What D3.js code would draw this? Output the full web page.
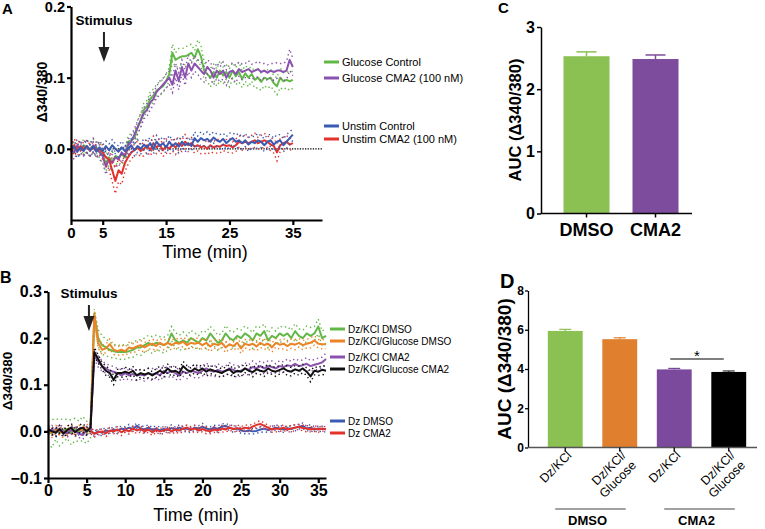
<!DOCTYPE html>
<html>
<head>
<meta charset="utf-8">
<script src="https://cdn.jsdelivr.net/npm/d3@7/dist/d3.min.js"></script>
<style>
  body { margin: 0; background: #fff; }
  svg text { font-family: "Liberation Sans", Arial, sans-serif; }
</style>
</head>
<body>
<div id="chart"></div>
<script>
var width = 765;
var height = 529;

// ---------- panel A : traces sampled every 0.5 min, 0-35 min ----------
var stepA = 0.5;
var glucoseControlA = [
  0.005, 0.0, 0.003, 0.0, 0.005, 0.002, 0.0, 0.004, 0.002, -0.002,
  -0.01, -0.02, -0.012, -0.018, -0.01, -0.012, -0.008, -0.012, 0.01, 0.012,
  0.015, 0.03, 0.04, 0.055, 0.06, 0.07, 0.075, 0.082, 0.085, 0.088,
  0.095, 0.105, 0.135, 0.125, 0.128, 0.13, 0.13, 0.132, 0.135, 0.128,
  0.14, 0.13, 0.11, 0.105, 0.1, 0.108, 0.1, 0.11, 0.103, 0.108,
  0.1, 0.11, 0.102, 0.108, 0.098, 0.106, 0.1, 0.105, 0.097, 0.1,
  0.094, 0.1, 0.098, 0.1, 0.092, 0.088, 0.1, 0.095, 0.097, 0.095,
  0.097];
var glucoseControlSemA = [
  0.01, 0.008, 0.01, 0.009, 0.008, 0.01, 0.009, 0.01, 0.008, 0.01,
  0.01, 0.012, 0.01, 0.012, 0.01, 0.011, 0.01, 0.012, 0.008, 0.01,
  0.008, 0.01, 0.009, 0.01, 0.008, 0.01, 0.009, 0.008, 0.01, 0.009,
  0.01, 0.009, 0.012, 0.01, 0.013, 0.011, 0.012, 0.014, 0.012, 0.01,
  0.013, 0.015, 0.012, 0.01, 0.013, 0.011, 0.012, 0.014, 0.012, 0.01,
  0.013, 0.011, 0.012, 0.014, 0.012, 0.011, 0.013, 0.01, 0.012, 0.014,
  0.012, 0.011, 0.013, 0.012, 0.01, 0.012, 0.014, 0.012, 0.011, 0.013,
  0.012];
var glucoseCma2A = [
  0.0, -0.005, 0.005, -0.002, 0.0, 0.004, -0.003, 0.005, 0.0, -0.005,
  -0.01, -0.025, -0.015, -0.02, -0.012, -0.015, -0.005, -0.01, 0.005, 0.01,
  0.02, 0.03, 0.04, 0.05, 0.055, 0.065, 0.07, 0.08, 0.085, 0.09,
  0.095, 0.1, 0.09, 0.11, 0.095, 0.115, 0.1, 0.12, 0.11, 0.12,
  0.115, 0.11, 0.105, 0.115, 0.11, 0.1, 0.11, 0.105, 0.11, 0.1,
  0.108, 0.11, 0.105, 0.112, 0.108, 0.11, 0.112, 0.108, 0.11, 0.112,
  0.108, 0.11, 0.107, 0.11, 0.108, 0.11, 0.11, 0.108, 0.11, 0.125,
  0.115];
var glucoseCma2SemA = [
  0.008, 0.01, 0.009, 0.008, 0.01, 0.009, 0.008, 0.01, 0.009, 0.01,
  0.01, 0.011, 0.01, 0.012, 0.01, 0.011, 0.009, 0.01, 0.008, 0.009,
  0.008, 0.009, 0.01, 0.008, 0.009, 0.01, 0.009, 0.008, 0.01, 0.009,
  0.01, 0.009, 0.011, 0.01, 0.012, 0.01, 0.011, 0.012, 0.01, 0.011,
  0.01, 0.012, 0.011, 0.01, 0.012, 0.01, 0.011, 0.01, 0.012, 0.011,
  0.01, 0.011, 0.012, 0.01, 0.011, 0.01, 0.012, 0.011, 0.01, 0.011,
  0.012, 0.01, 0.011, 0.01, 0.012, 0.011, 0.01, 0.012, 0.013, 0.015,
  0.012];
var unstimControlA = [
  0.0, 0.003, -0.004, 0.002, -0.003, 0.004, -0.002, 0.003, -0.004, 0.002,
  -0.003, 0.004, -0.002, 0.005, 0.0, -0.004, 0.002, -0.003, 0.0, 0.005,
  -0.002, 0.004, 0.0, 0.006, 0.002, 0.008, 0.0, 0.01, 0.004, 0.008,
  0.002, 0.01, 0.004, 0.008, 0.003, 0.01, 0.005, 0.008, 0.004, 0.015,
  0.01, 0.015, 0.012, 0.014, 0.01, 0.016, 0.012, 0.01, 0.014, 0.008,
  0.012, 0.015, 0.01, 0.012, 0.008, 0.012, 0.006, 0.01, 0.008, 0.012,
  0.01, 0.005, 0.01, 0.012, 0.006, 0.01, 0.012, 0.005, 0.01, 0.015,
  0.02];
var unstimControlSemA = [
  0.008, 0.007, 0.009, 0.008, 0.007, 0.009, 0.008, 0.007, 0.008, 0.009,
  0.008, 0.007, 0.009, 0.008, 0.007, 0.008, 0.009, 0.007, 0.008, 0.009,
  0.008, 0.009, 0.007, 0.008, 0.009, 0.008, 0.007, 0.009, 0.008, 0.009,
  0.008, 0.009, 0.008, 0.007, 0.009, 0.008, 0.009, 0.008, 0.007, 0.009,
  0.008, 0.009, 0.008, 0.01, 0.009, 0.008, 0.009, 0.01, 0.008, 0.009,
  0.01, 0.008, 0.009, 0.01, 0.008, 0.009, 0.01, 0.008, 0.009, 0.01,
  0.008, 0.009, 0.01, 0.008, 0.009, 0.01, 0.008, 0.009, 0.01, 0.009,
  0.008];
var unstimCma2A = [
  -0.005, 0.005, -0.002, 0.004, 0.0, 0.003, -0.002, 0.002, -0.003, 0.0,
  -0.005, -0.012, -0.015, -0.03, -0.045, -0.03, -0.035, -0.02, -0.012, -0.005,
  -0.002, 0.002, -0.003, 0.0, 0.005, -0.002, 0.008, 0.002, 0.006, -0.002,
  0.004, 0.0, 0.006, 0.002, 0.008, 0.004, 0.01, 0.005, 0.008, 0.003,
  0.005, 0.002, 0.004, 0.0, 0.005, 0.002, 0.004, 0.003, 0.006, 0.004,
  0.005, 0.002, 0.005, 0.01, 0.008, 0.01, 0.008, 0.01, 0.012, 0.008,
  0.01, 0.012, 0.01, 0.006, 0.004, -0.005, 0.005, 0.008, 0.01, 0.006,
  0.008];
var unstimCma2SemA = [
  0.008, 0.009, 0.008, 0.007, 0.008, 0.009, 0.008, 0.007, 0.008, 0.009,
  0.01, 0.012, 0.014, 0.016, 0.018, 0.016, 0.015, 0.012, 0.01, 0.009,
  0.008, 0.009, 0.008, 0.01, 0.009, 0.008, 0.01, 0.009, 0.008, 0.009,
  0.01, 0.008, 0.009, 0.01, 0.009, 0.008, 0.01, 0.009, 0.008, 0.009,
  0.008, 0.009, 0.01, 0.008, 0.009, 0.008, 0.01, 0.009, 0.008, 0.009,
  0.01, 0.008, 0.009, 0.008, 0.01, 0.009, 0.008, 0.009, 0.01, 0.008,
  0.009, 0.01, 0.008, 0.009, 0.01, 0.012, 0.009, 0.008, 0.009, 0.008,
  0.009];
var legendA = ["Glucose Control", "Glucose CMA2 (100 nM)", "Unstim Control", "Unstim CMA2 (100 nM)"];
var xTicksA = [0, 5, 15, 25, 35];
var yTicksA = [0, 0.1, 0.2];

// ---------- panel B : traces sampled every 0.5 min, 0-36 min ----------
var stepB = 0.5;
var dzKclDmsoB = [
  0.0, -0.005, 0.005, -0.003, 0.002, 0.005, -0.002, 0.004, 0.0, 0.006,
  -0.002, 0.005, 0.25, 0.2, 0.185, 0.18, 0.175, 0.172, 0.17, 0.17,
  0.17, 0.172, 0.175, 0.18, 0.18, 0.185, 0.19, 0.185, 0.19, 0.188,
  0.185, 0.19, 0.21, 0.195, 0.19, 0.195, 0.19, 0.2, 0.195, 0.19,
  0.2, 0.195, 0.21, 0.2, 0.19, 0.195, 0.21, 0.2, 0.195, 0.205,
  0.2, 0.21, 0.205, 0.195, 0.21, 0.205, 0.215, 0.195, 0.205, 0.2,
  0.21, 0.205, 0.21, 0.2, 0.215, 0.205, 0.2, 0.21, 0.205, 0.21,
  0.225, 0.2, 0.205];
var dzKclDmsoSemB = [
  0.025, 0.03, 0.022, 0.028, 0.025, 0.02, 0.027, 0.024, 0.022, 0.026,
  0.024, 0.02, 0.012, 0.018, 0.02, 0.018, 0.016, 0.015, 0.014, 0.016,
  0.015, 0.014, 0.016, 0.015, 0.017, 0.015, 0.016, 0.018, 0.016, 0.015,
  0.017, 0.016, 0.015, 0.017, 0.016, 0.018, 0.015, 0.017, 0.016, 0.015,
  0.016, 0.018, 0.015, 0.017, 0.016, 0.015, 0.017, 0.016, 0.018, 0.015,
  0.017, 0.016, 0.015, 0.017, 0.016, 0.018, 0.015, 0.016, 0.017, 0.015,
  0.016, 0.018, 0.015, 0.017, 0.016, 0.015, 0.017, 0.016, 0.018, 0.015,
  0.016, 0.015, 0.016];
var dzKclGlucDmsoB = [
  0.002, -0.003, 0.004, 0.0, -0.004, 0.003, 0.006, -0.002, 0.004, 0.002,
  0.005, 0.004, 0.25, 0.19, 0.175, 0.178, 0.187, 0.175, 0.172, 0.175,
  0.172, 0.18, 0.178, 0.182, 0.185, 0.18, 0.185, 0.188, 0.183, 0.19,
  0.185, 0.19, 0.185, 0.19, 0.188, 0.192, 0.185, 0.19, 0.188, 0.19,
  0.185, 0.19, 0.182, 0.188, 0.185, 0.19, 0.18, 0.187, 0.183, 0.19,
  0.178, 0.188, 0.185, 0.188, 0.182, 0.19, 0.185, 0.188, 0.18, 0.19,
  0.186, 0.188, 0.183, 0.188, 0.186, 0.19, 0.185, 0.188, 0.19, 0.195,
  0.188, 0.187, 0.187];
var dzKclGlucDmsoSemB = [
  0.008, 0.01, 0.009, 0.008, 0.01, 0.009, 0.008, 0.01, 0.009, 0.008,
  0.01, 0.009, 0.008, 0.012, 0.01, 0.009, 0.011, 0.01, 0.009, 0.01,
  0.009, 0.011, 0.01, 0.009, 0.01, 0.011, 0.009, 0.01, 0.011, 0.009,
  0.01, 0.009, 0.011, 0.01, 0.009, 0.01, 0.011, 0.009, 0.01, 0.011,
  0.009, 0.01, 0.011, 0.009, 0.01, 0.009, 0.011, 0.01, 0.009, 0.01,
  0.011, 0.009, 0.01, 0.011, 0.009, 0.01, 0.009, 0.011, 0.01, 0.009,
  0.01, 0.011, 0.009, 0.01, 0.011, 0.009, 0.01, 0.009, 0.011, 0.01,
  0.009, 0.01, 0.01];
var dzKclCma2B = [
  0.0, 0.004, -0.003, 0.005, 0.0, -0.004, 0.003, 0.0, -0.005, -0.008,
  0.002, 0.004, 0.165, 0.15, 0.14, 0.135, 0.13, 0.128, 0.125, 0.12,
  0.125, 0.12, 0.123, 0.12, 0.122, 0.12, 0.125, 0.122, 0.125, 0.12,
  0.13, 0.125, 0.13, 0.125, 0.12, 0.128, 0.125, 0.13, 0.128, 0.125,
  0.13, 0.135, 0.13, 0.128, 0.132, 0.128, 0.13, 0.135, 0.132, 0.128,
  0.13, 0.135, 0.132, 0.138, 0.135, 0.14, 0.135, 0.14, 0.138, 0.135,
  0.14, 0.138, 0.142, 0.14, 0.145, 0.14, 0.142, 0.145, 0.14, 0.143,
  0.145, 0.148, 0.155];
var dzKclCma2SemB = [
  0.008, 0.009, 0.008, 0.01, 0.009, 0.008, 0.009, 0.01, 0.008, 0.009,
  0.009, 0.008, 0.01, 0.012, 0.011, 0.01, 0.012, 0.011, 0.01, 0.012,
  0.011, 0.01, 0.012, 0.011, 0.01, 0.012, 0.011, 0.013, 0.01, 0.011,
  0.012, 0.01, 0.011, 0.013, 0.011, 0.01, 0.012, 0.011, 0.013, 0.01,
  0.011, 0.012, 0.01, 0.011, 0.013, 0.011, 0.01, 0.012, 0.011, 0.013,
  0.01, 0.012, 0.011, 0.013, 0.01, 0.011, 0.012, 0.011, 0.013, 0.01,
  0.012, 0.011, 0.013, 0.01, 0.011, 0.012, 0.011, 0.013, 0.012, 0.011,
  0.012, 0.011, 0.013];
var dzKclGlucCma2B = [
  0.005, 0.0, -0.003, 0.005, -0.005, 0.003, 0.008, -0.002, 0.005, 0.008,
  0.0, 0.008, 0.17, 0.155, 0.14, 0.13, 0.125, 0.11, 0.125, 0.125,
  0.128, 0.125, 0.13, 0.12, 0.125, 0.122, 0.125, 0.12, 0.125, 0.13,
  0.125, 0.135, 0.128, 0.13, 0.125, 0.14, 0.132, 0.128, 0.135, 0.13,
  0.135, 0.128, 0.133, 0.13, 0.128, 0.125, 0.13, 0.133, 0.125, 0.13,
  0.128, 0.135, 0.13, 0.127, 0.133, 0.13, 0.128, 0.135, 0.13, 0.128,
  0.132, 0.135, 0.13, 0.128, 0.133, 0.13, 0.135, 0.128, 0.118, 0.13,
  0.128, 0.132, 0.13];
var dzKclGlucCma2SemB = [
  0.008, 0.007, 0.009, 0.008, 0.007, 0.008, 0.009, 0.007, 0.008, 0.009,
  0.008, 0.007, 0.01, 0.009, 0.008, 0.01, 0.009, 0.01, 0.008, 0.009,
  0.01, 0.008, 0.009, 0.01, 0.008, 0.009, 0.01, 0.008, 0.009, 0.01,
  0.008, 0.009, 0.01, 0.008, 0.009, 0.01, 0.009, 0.008, 0.01, 0.009,
  0.008, 0.01, 0.009, 0.008, 0.01, 0.009, 0.008, 0.01, 0.009, 0.008,
  0.01, 0.009, 0.008, 0.01, 0.009, 0.008, 0.01, 0.009, 0.008, 0.01,
  0.009, 0.008, 0.01, 0.009, 0.008, 0.01, 0.009, 0.008, 0.012, 0.009,
  0.008, 0.01, 0.009];
var dzDmsoB = [
  0.0, 0.003, -0.002, 0.004, 0.0, -0.003, 0.002, 0.004, -0.002, 0.003,
  0.0, 0.002, -0.005, 0.0, -0.003, 0.002, 0.0, 0.004, 0.002, 0.006,
  0.004, 0.008, 0.005, 0.012, 0.006, 0.004, 0.008, 0.003, 0.006, 0.002,
  0.005, 0.003, 0.007, 0.004, 0.008, 0.005, 0.006, 0.003, 0.008, 0.006,
  0.01, 0.006, 0.004, 0.008, 0.005, 0.01, 0.012, 0.008, 0.005, 0.006,
  0.002, 0.0, 0.002, 0.0, 0.001, 0.004, 0.006, 0.003, 0.005, 0.008,
  0.006, 0.004, 0.007, 0.005, 0.008, 0.01, 0.012, 0.006, 0.008, 0.004,
  0.006, 0.005, 0.005];
var dzDmsoSemB = [
  0.006, 0.005, 0.007, 0.006, 0.005, 0.006, 0.007, 0.005, 0.006, 0.007,
  0.006, 0.005, 0.006, 0.005, 0.007, 0.006, 0.005, 0.006, 0.007, 0.005,
  0.006, 0.007, 0.005, 0.006, 0.005, 0.007, 0.006, 0.005, 0.006, 0.007,
  0.005, 0.006, 0.007, 0.005, 0.006, 0.005, 0.007, 0.006, 0.005, 0.006,
  0.007, 0.005, 0.006, 0.005, 0.007, 0.006, 0.005, 0.006, 0.007, 0.005,
  0.006, 0.005, 0.007, 0.006, 0.005, 0.006, 0.007, 0.005, 0.006, 0.005,
  0.007, 0.006, 0.005, 0.006, 0.007, 0.005, 0.006, 0.005, 0.007, 0.006,
  0.005, 0.006, 0.006];
var dzCma2B = [
  0.003, -0.002, 0.004, 0.0, 0.002, -0.003, 0.003, 0.0, 0.002, 0.004,
  0.002, 0.001, -0.005, -0.002, 0.0, -0.004, 0.002, 0.0, 0.004, -0.002,
  0.003, 0.0, 0.006, 0.002, 0.005, 0.0, 0.004, -0.002, 0.003, 0.0,
  0.002, 0.005, 0.0, 0.004, 0.002, 0.006, 0.008, 0.004, 0.006, 0.002,
  0.005, 0.002, 0.0, 0.004, 0.002, 0.006, 0.004, 0.008, 0.005, 0.007,
  0.005, 0.008, 0.006, 0.01, 0.014, 0.016, 0.012, 0.008, 0.004, 0.006,
  0.005, 0.008, 0.004, 0.006, 0.008, 0.01, 0.007, 0.006, 0.004, 0.006,
  0.004, 0.006, 0.004];
var dzCma2SemB = [
  0.005, 0.006, 0.005, 0.007, 0.006, 0.005, 0.006, 0.007, 0.005, 0.006,
  0.005, 0.006, 0.007, 0.006, 0.005, 0.007, 0.006, 0.005, 0.006, 0.007,
  0.005, 0.006, 0.005, 0.007, 0.006, 0.005, 0.006, 0.007, 0.005, 0.006,
  0.007, 0.005, 0.006, 0.005, 0.007, 0.006, 0.005, 0.006, 0.007, 0.005,
  0.006, 0.007, 0.005, 0.006, 0.005, 0.007, 0.006, 0.005, 0.006, 0.007,
  0.005, 0.006, 0.007, 0.005, 0.006, 0.007, 0.006, 0.005, 0.006, 0.007,
  0.005, 0.006, 0.005, 0.007, 0.006, 0.005, 0.006, 0.007, 0.005, 0.006,
  0.006, 0.005, 0.006];
var legendB = ["Dz/KCl DMSO", "Dz/KCl/Glucose DMSO", "Dz/KCl CMA2", "Dz/KCl/Glucose CMA2", "Dz DMSO", "Dz CMA2"];
var xTicksB = [0, 5, 10, 15, 20, 25, 30, 35];
var yTicksB = [-0.1, 0, 0.1, 0.2, 0.3];

// ---------- panel C : AUC bars ----------
var cCategories = ["DMSO", "CMA2"];
var cValues = [2.53, 2.485];
var cErrors = [0.07, 0.065];
var cTicks = [0, 1, 2, 3];

// ---------- panel D : AUC bars ----------
var dCategories = ["Dz/KCl DMSO", "Dz/KCl/Glucose DMSO", "Dz/KCl CMA2", "Dz/KCl/Glucose CMA2"];
var dTickLabels = [["Dz/KCl"], ["Dz/KCl/", "Glucose"], ["Dz/KCl"], ["Dz/KCl/", "Glucose"]];
var dValues = [5.94, 5.52, 3.98, 3.85];
var dErrors = [0.08, 0.07, 0.05, 0.05];
var dTicks = [0, 2, 4, 6, 8];

var green = "#62b847", purple = "#8a52ae", blue = "#3b5ab2", red = "#e3312c", orange = "#ec8426", black = "#111";

var svg = d3.select("#chart").append("svg")
  .attr("width", width)
  .attr("height", height);

function styleAxis(g, fs, sw) {
  g.attr("font-family", null);
  g.selectAll("text")
    .style("font-size", fs + "px")
    .style("font-weight", "bold")
    .attr("fill", "#000");
  g.selectAll("path, line").attr("stroke", "#000").attr("stroke-width", sw);
}

function drawTrace(g, x, y, vals, sems, step, color) {
  var pts = vals.map(function(v, i) { return { t: i * step, v: v, s: sems[i] }; });
  var upper = d3.line().x(function(d) { return x(d.t); }).y(function(d) { return y(d.v + d.s); });
  var lower = d3.line().x(function(d) { return x(d.t); }).y(function(d) { return y(d.v - d.s); });
  var mean = d3.line().x(function(d) { return x(d.t); }).y(function(d) { return y(d.v); });
  [upper, lower].forEach(function(l) {
    g.append("path").datum(pts).attr("d", l)
      .attr("fill", "none").attr("stroke", color)
      .attr("stroke-width", 1.4).attr("stroke-dasharray", "1.4,3");
  });
  g.append("path").datum(pts).attr("d", mean)
    .attr("fill", "none").attr("stroke", color)
    .attr("stroke-width", 2).attr("stroke-linejoin", "round");
}

function drawStimulus(x, textY, top, tip, size) {
  svg.append("text").attr("x", x).attr("y", textY)
    .attr("text-anchor", "middle").style("font-size", size + "px").style("font-weight", "bold")
    .text("Stimulus");
  svg.append("line").attr("x1", x).attr("x2", x).attr("y1", top).attr("y2", tip - 10)
    .attr("stroke", "#222").attr("stroke-width", 2);
  svg.append("path")
    .attr("d", "M" + (x - 5.5) + "," + (tip - 15) + "L" + (x + 5.5) + "," + (tip - 15) + "L" + x + "," + tip + "Z")
    .attr("fill", "#222");
}

function drawLegend(x0, ys, labels, colors, fs) {
  labels.forEach(function(lab, i) {
    svg.append("line").attr("x1", x0).attr("x2", x0 + 15).attr("y1", ys[i]).attr("y2", ys[i])
      .attr("stroke", colors[i]).attr("stroke-width", 3);
    svg.append("text").attr("x", x0 + 18).attr("y", ys[i] + 4)
      .style("font-size", fs + "px").text(lab);
  });
}

// ================= A =================
var xA = d3.scaleLinear().domain([0, 39.6]).range([71, 322]);
var yA = d3.scaleLinear().domain([-0.1, 0.2]).range([220, 6.5]);

svg.append("line").attr("x1", xA(0)).attr("x2", xA(39.6)).attr("y1", yA(0)).attr("y2", yA(0))
  .attr("stroke", "#000").attr("stroke-width", 1.3).attr("stroke-dasharray", "1.3,1.3");

var gA = svg.append("g");
drawTrace(gA, xA, yA, glucoseControlA, glucoseControlSemA, stepA, green);
drawTrace(gA, xA, yA, glucoseCma2A, glucoseCma2SemA, stepA, purple);
drawTrace(gA, xA, yA, unstimCma2A, unstimCma2SemA, stepA, red);
drawTrace(gA, xA, yA, unstimControlA, unstimControlSemA, stepA, blue);

svg.append("g").attr("transform", "translate(0,220)")
  .call(d3.axisBottom(xA).tickValues(xTicksA).tickSize(5).tickSizeOuter(0).tickPadding(2).tickFormat(d3.format("d")))
  .call(styleAxis, 15, 2.2);
svg.append("g").attr("transform", "translate(71,0)")
  .call(d3.axisLeft(yA).tickValues(yTicksA).tickSize(4).tickSizeOuter(0).tickPadding(2).tickFormat(d3.format(".1f")))
  .call(styleAxis, 14.5, 2.2);

svg.append("text").attr("transform", "translate(47,92) rotate(-90)")
  .attr("text-anchor", "middle").style("font-size", "14px").style("font-weight", "bold").text("\u0394340/380");
svg.append("text").attr("x", 205).attr("y", 258).attr("text-anchor", "middle")
  .style("font-size", "18px").text("Time (min)");
svg.append("text").attr("x", 2).attr("y", 14).style("font-size", "15px").style("font-weight", "bold").text("A");
drawStimulus(xA(5.2), 25, 32, 62, 13.5);
drawLegend(324, [62, 78, 126, 139], legendA, [green, purple, blue, red], 11);

// ================= B =================
var xB = d3.scaleLinear().domain([0, 36]).range([48, 326]);
var yB = d3.scaleLinear().domain([-0.1, 0.3]).range([478, 291.5]);

var gB = svg.append("g");
drawTrace(gB, xB, yB, dzDmsoB, dzDmsoSemB, stepB, blue);
drawTrace(gB, xB, yB, dzCma2B, dzCma2SemB, stepB, red);
drawTrace(gB, xB, yB, dzKclDmsoB, dzKclDmsoSemB, stepB, green);
drawTrace(gB, xB, yB, dzKclGlucDmsoB, dzKclGlucDmsoSemB, stepB, orange);
drawTrace(gB, xB, yB, dzKclCma2B, dzKclCma2SemB, stepB, purple);
drawTrace(gB, xB, yB, dzKclGlucCma2B, dzKclGlucCma2SemB, stepB, black);

svg.append("g").attr("transform", "translate(0,478)")
  .call(d3.axisBottom(xB).tickValues(xTicksB).tickSize(5).tickSizeOuter(0).tickPadding(2).tickFormat(d3.format("d")))
  .call(styleAxis, 16, 2.2);
svg.append("g").attr("transform", "translate(48,0)")
  .call(d3.axisLeft(yB).tickValues(yTicksB).tickSize(4).tickSizeOuter(0).tickPadding(2).tickFormat(d3.format(".1f")))
  .call(styleAxis, 16, 2.2);

svg.append("text").attr("transform", "translate(12,381) rotate(-90)")
  .attr("text-anchor", "middle").style("font-size", "13.5px").style("font-weight", "bold").text("\u0394340/380");
svg.append("text").attr("x", 196).attr("y", 521).attr("text-anchor", "middle")
  .style("font-size", "18px").text("Time (min)");
svg.append("text").attr("x", 0).attr("y", 283).style("font-size", "16px").style("font-weight", "bold").text("B");
drawStimulus(xB(5.3), 298, 305, 331, 13.5);
drawLegend(330, [329, 341, 357, 369, 421, 433], legendB, [green, orange, purple, black, blue, red], 10);

// ================= C =================
var xC = d3.scaleBand().domain(cCategories).range([552, 690]).paddingInner(0.333).paddingOuter(0.1665);
var yC = d3.scaleLinear().domain([0, 3]).range([213.5, 27]);
var cColors = ["#8bc153", "#7e4c9c"];

svg.selectAll(".barC").data(cCategories).enter().append("rect")
  .attr("x", function(d) { return xC(d); })
  .attr("y", function(d, i) { return yC(cValues[i]); })
  .attr("width", xC.bandwidth())
  .attr("height", function(d, i) { return yC(0) - yC(cValues[i]); })
  .attr("fill", function(d, i) { return cColors[i]; });
cCategories.forEach(function(c, i) {
  var cx = xC(c) + xC.bandwidth() / 2;
  svg.append("line").attr("x1", cx).attr("x2", cx).attr("y1", yC(cValues[i])).attr("y2", yC(cValues[i] + cErrors[i]))
    .attr("stroke", cColors[i]).attr("stroke-width", 1.5);
  svg.append("line").attr("x1", cx - 10).attr("x2", cx + 10).attr("y1", yC(cValues[i] + cErrors[i])).attr("y2", yC(cValues[i] + cErrors[i]))
    .attr("stroke", cColors[i]).attr("stroke-width", 1.5);
});
svg.append("g").attr("transform", "translate(541,0)")
  .call(d3.axisLeft(yC).tickValues(cTicks).tickSize(4).tickSizeOuter(0).tickPadding(2).tickFormat(d3.format("d")))
  .call(styleAxis, 16, 1.5);
var axC = svg.append("g").attr("transform", "translate(0,213.5)")
  .call(d3.axisBottom(xC).tickSize(4).tickSizeOuter(0).tickPadding(6))
  .call(styleAxis, 18, 1.5);
axC.select(".domain").attr("d", "M541,0H692");
svg.append("text").attr("transform", "translate(521,120) rotate(-90)")
  .attr("text-anchor", "middle").style("font-size", "16.5px").style("font-weight", "bold").text("AUC (\u0394340/380)");
svg.append("text").attr("x", 498).attr("y", 13).style("font-size", "15px").style("font-weight", "bold").text("C");

// ================= D =================
var xD = d3.scaleBand().domain(dCategories).range([538, 756]).paddingInner(0.36).paddingOuter(0.18);
var yD = d3.scaleLinear().domain([0, 8]).range([447.5, 290.5]);
var dColors = ["#8bc153", "#e07f2e", "#7b4a9c", "#000000"];

svg.selectAll(".barD").data(dCategories).enter().append("rect")
  .attr("x", function(d) { return xD(d); })
  .attr("y", function(d, i) { return yD(dValues[i]); })
  .attr("width", xD.bandwidth())
  .attr("height", function(d, i) { return yD(0) - yD(dValues[i]); })
  .attr("fill", function(d, i) { return dColors[i]; });
dCategories.forEach(function(c, i) {
  var cx = xD(c) + xD.bandwidth() / 2;
  var col = i === 3 ? "#333" : dColors[i];
  svg.append("line").attr("x1", cx).attr("x2", cx).attr("y1", yD(dValues[i])).attr("y2", yD(dValues[i] + dErrors[i]))
    .attr("stroke", col).attr("stroke-width", 1.2);
  svg.append("line").attr("x1", cx - 6).attr("x2", cx + 6).attr("y1", yD(dValues[i] + dErrors[i])).attr("y2", yD(dValues[i] + dErrors[i]))
    .attr("stroke", col).attr("stroke-width", 1.2);
});
svg.append("g").attr("transform", "translate(528,0)")
  .call(d3.axisLeft(yD).tickValues(dTicks).tickSize(3).tickSizeOuter(0).tickPadding(1))
  .call(styleAxis, 12, 1.3);
var axD = svg.append("g").attr("transform", "translate(0,447.5)")
  .call(d3.axisBottom(xD).tickSize(4).tickSizeOuter(0).tickFormat(""))
  .call(styleAxis, 12, 1.3);
axD.select(".domain").attr("d", "M528,0H757").attr("stroke", "#555");

dCategories.forEach(function(c, i) {
  var cx = xD(c) + xD.bandwidth() / 2;
  var t = svg.append("text").attr("transform", "translate(" + (cx + 7) + ",456) rotate(-45)")
    .attr("text-anchor", "end").style("font-size", "12.5px");
  dTickLabels[i].forEach(function(line, k) {
    t.append("tspan").attr("x", 0).attr("dy", k === 0 ? 0 : "1.15em").text(line);
  });
});

// group brackets under the treatment labels
var groups = [["DMSO", 0, 1], ["CMA2", 2, 3]];
groups.forEach(function(gr) {
  var x1 = xD(dCategories[gr[1]]) + xD.bandwidth() / 2 - 10;
  var x2 = xD(dCategories[gr[2]]) + xD.bandwidth() / 2 + 6;
  svg.append("line").attr("x1", x1).attr("x2", x2).attr("y1", 509).attr("y2", 509)
    .attr("stroke", "#444").attr("stroke-width", 1.2);
  svg.append("text").attr("x", (x1 + x2) / 2 - 3).attr("y", 525).attr("text-anchor", "middle")
    .style("font-size", "13px").style("font-weight", "bold").text(gr[0]);
});

// significance
var s1 = xD(dCategories[2]) + xD.bandwidth() / 2 - 4, s2 = xD(dCategories[3]) + xD.bandwidth() / 2 - 5;
svg.append("line").attr("x1", s1).attr("x2", s2).attr("y1", 359).attr("y2", 359)
  .attr("stroke", "#000").attr("stroke-width", 1.2);
svg.append("text").attr("x", (s1 + s2) / 2).attr("y", 361).attr("text-anchor", "middle")
  .style("font-size", "15px").text("*");

svg.append("text").attr("transform", "translate(511,369) rotate(-90)")
  .attr("text-anchor", "middle").style("font-size", "19px").style("font-weight", "bold").text("AUC (\u0394340/380)");
svg.append("text").attr("x", 500).attr("y", 288).style("font-size", "20px").style("font-weight", "bold").text("D");
</script>
</body>
</html>
